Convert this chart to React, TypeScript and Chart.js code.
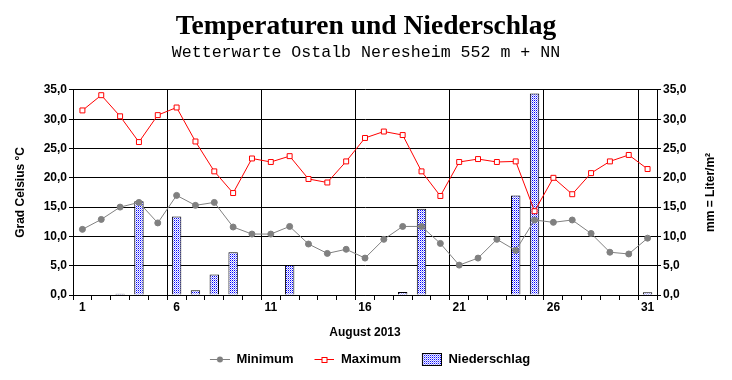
import React, { useEffect, useRef } from "react";
import { Chart, registerables } from "chart.js";

Chart.register(...registerables);

const days: string[] = Array.from({ length: 31 }, (_, i) => String(i + 1));
const minTemp: number[] = [11.2, 12.9, 15.0, 15.8, 12.3, 17.0, 15.3, 15.8, 11.6, 10.4, 10.4, 11.7, 8.7, 7.1, 7.8, 6.3, 9.5, 11.7, 11.7, 8.8, 5.1, 6.3, 9.5, 7.6, 12.8, 12.4, 12.8, 10.5, 7.3, 7.0, 9.7];
const maxTemp: number[] = [31.5, 34.1, 30.5, 26.1, 30.7, 32.0, 26.2, 21.1, 17.4, 23.3, 22.7, 23.7, 19.8, 19.2, 22.8, 26.8, 27.9, 27.3, 21.1, 16.9, 22.7, 23.2, 22.7, 22.8, 14.3, 20.0, 17.2, 20.8, 22.8, 23.9, 21.5];
const precip: number[] = [0, 0, 0.2, 16.0, 0, 13.4, 0.8, 3.5, 7.3, 0, 0, 5.1, 0, 0, 0, 0, 0, 0.5, 14.7, 0, 0, 0, 0, 17.0, 34.4, 0, 0, 0, 0, 0, 0.45];
const yTicks: number[] = [0, 5, 10, 15, 20, 25, 30, 35];
const rightTitle = "mm = Liter/m²";

const fmt = (v: number) => v.toFixed(1).replace(".", ",");
const FONT_FAMILY = "'Liberation Sans', Arial, sans-serif";

function makePattern(): CanvasPattern | string {
  const c = document.createElement("canvas");
  c.width = 2;
  c.height = 2;
  const g = c.getContext("2d");
  if (!g) return "#8888ff";
  g.fillStyle = "#ffffff";
  g.fillRect(0, 0, 2, 2);
  g.fillStyle = "#0000ff";
  g.fillRect(0, 0, 1, 1);
  g.fillStyle = "#9999ff";
  g.fillRect(1, 1, 1, 1);
  const p = g.createPattern(c, "repeat");
  return p || "#8888ff";
}

const ICON_W = 28;

function lineIcon(color: string, kind: "circle" | "square"): HTMLCanvasElement {
  const c = document.createElement("canvas");
  c.width = ICON_W;
  c.height = 9;
  const g = c.getContext("2d")!;
  const x0 = ICON_W - 20;
  g.strokeStyle = color;
  g.lineWidth = 1;
  g.beginPath();
  g.moveTo(x0, 4.5);
  g.lineTo(x0 + 20, 4.5);
  g.stroke();
  if (kind === "circle") {
    g.fillStyle = "#808080";
    g.beginPath();
    g.arc(x0 + 10, 4.5, 3, 0, Math.PI * 2);
    g.fill();
  } else {
    g.fillStyle = "#ffffff";
    g.fillRect(x0 + 7, 2, 6, 6);
    g.strokeStyle = "#ff0000";
    g.strokeRect(x0 + 7.5, 2.5, 5, 5);
  }
  return c;
}

function boxIcon(pattern: CanvasPattern | string): HTMLCanvasElement {
  const c = document.createElement("canvas");
  c.width = ICON_W;
  c.height = 13;
  const g = c.getContext("2d")!;
  const x0 = ICON_W - 20;
  g.fillStyle = pattern as any;
  g.fillRect(x0, 0, 20, 13);
  g.strokeStyle = "#000000";
  g.lineWidth = 1;
  g.strokeRect(x0 + 0.5, 0.5, 19, 12);
  return c;
}

const rightTitlePlugin = {
  id: "rightTitle",
  afterDraw(chart: any) {
    const s = chart.scales.y1;
    if (!s) return;
    const ctx = chart.ctx;
    ctx.save();
    ctx.translate(711, (s.top + s.bottom) / 2);
    ctx.rotate(-Math.PI / 2);
    ctx.font = `bold 12px ${FONT_FAMILY}`;
    ctx.fillStyle = "#000";
    ctx.textAlign = "center";
    ctx.textBaseline = "middle";
    ctx.fillText(rightTitle, 0, 0);
    ctx.restore();
  },
};

export default function App() {
  const ref = useRef<HTMLCanvasElement | null>(null);

  useEffect(() => {
    if (!ref.current) return;
    const pattern = makePattern();
    const icons = [lineIcon("#808080", "circle"), lineIcon("#ff0000", "square"), boxIcon(pattern)];
    const font = { family: FONT_FAMILY, weight: "bold" as const, size: 12 };
    const legendFont = { family: FONT_FAMILY, weight: "bold" as const, size: 13 };

    const chart = new Chart(ref.current, {
      type: "bar",
      data: {
        labels: days,
        datasets: [
          {
            type: "line",
            label: "Minimum",
            data: minTemp,
            yAxisID: "y",
            borderColor: "#808080",
            borderWidth: 1,
            pointBackgroundColor: "#808080",
            pointBorderColor: "#808080",
            pointRadius: 3,
            pointStyle: "circle",
            order: 1,
          },
          {
            type: "line",
            label: "Maximum",
            data: maxTemp,
            yAxisID: "y",
            borderColor: "#ff0000",
            borderWidth: 1,
            pointBackgroundColor: "#ffffff",
            pointBorderColor: "#ff0000",
            pointBorderWidth: 1,
            pointRadius: 3.5,
            pointStyle: "rect",
            order: 2,
          },
          {
            type: "bar",
            label: "Niederschlag",
            data: precip,
            yAxisID: "y1",
            backgroundColor: pattern as any,
            borderColor: "#000000",
            borderWidth: 1,
            barPercentage: 0.5,
            categoryPercentage: 1,
            order: 3,
          },
        ],
      },
      options: {
        animation: false,
        responsive: false,
        maintainAspectRatio: false,
        layout: { padding: { left: 0, right: 0, top: 0, bottom: 4 } },
        plugins: {
          tooltip: { enabled: false },
          title: {
            display: true,
            text: "Temperaturen und Niederschlag",
            color: "#000",
            font: { family: "'Liberation Serif', 'Times New Roman', serif", size: 27.5, weight: "bold" },
            padding: { top: 10, bottom: 0 },
          },
          subtitle: {
            display: true,
            text: "Wetterwarte Ostalb Neresheim 552 m + NN",
            color: "#000",
            font: { family: "'Liberation Mono', 'Courier New', monospace", size: 16.6, weight: "normal" },
            padding: { top: 0, bottom: 27 },
          },
          legend: {
            position: "bottom",
            labels: {
              color: "#000",
              font: legendFont,
              usePointStyle: true,
              pointStyleWidth: ICON_W,
              boxHeight: 12,
              padding: 13,
              generateLabels: (ch: any) => {
                const base = (Chart.defaults.plugins.legend.labels as any).generateLabels(ch);
                return base.map((it: any) => ({ ...it, pointStyle: icons[it.datasetIndex], lineWidth: 0 }));
              },
            },
          },
        },
        scales: {
          x: {
            offset: true,
            afterFit: (s: any) => {
              s.height = 45;
            },
            grid: {
              offset: true,
              color: (c: any) => (c.index % 5 === 0 ? "#000000" : "rgba(0,0,0,0)"),
              tickColor: "#000000",
              tickLength: 5,
              lineWidth: 1,
            },
            border: { color: "#000000", width: 1 },
            ticks: {
              color: "#000",
              font,
              padding: 0,
              autoSkip: false,
              maxRotation: 0,
              callback: (_v: any, i: number) => (i % 5 === 0 ? days[i] : ""),
            },
            title: { display: true, text: "August 2013", color: "#000", font, padding: { top: 0, bottom: 0 } },
          },
          y: {
            position: "left",
            min: 0,
            max: 35,
            afterFit: (s: any) => {
              s.width = 73;
            },
            afterBuildTicks: (s: any) => {
              s.ticks = yTicks.map((v) => ({ value: v }));
            },
            grid: { color: "#000000", tickColor: "#000000", tickLength: 4 },
            border: { color: "#000000" },
            ticks: { color: "#000", font, padding: 2, callback: (v: any) => fmt(Number(v)) },
            title: { display: true, text: "Grad Celsius °C", color: "#000", font, padding: { top: 13, bottom: 0 } },
          },
          y1: {
            position: "right",
            min: 0,
            max: 35,
            afterFit: (s: any) => {
              s.width = 75;
            },
            afterBuildTicks: (s: any) => {
              s.ticks = yTicks.map((v) => ({ value: v }));
            },
            grid: { drawOnChartArea: false, color: "#000000", tickColor: "#000000", tickLength: 4 },
            border: { color: "#000000" },
            ticks: { color: "#000", font, padding: 2, callback: (v: any) => fmt(Number(v)) },
          },
        },
      },
      plugins: [rightTitlePlugin],
    });
    return () => chart.destroy();
  }, []);

  return (
    <div style={{ position: "absolute", left: 0, top: 0, width: 732, height: 380, background: "#fff" }}>
      <canvas ref={ref} width={732} height={380} style={{ width: 732, height: 380, display: "block" }} />
    </div>
  );
}
